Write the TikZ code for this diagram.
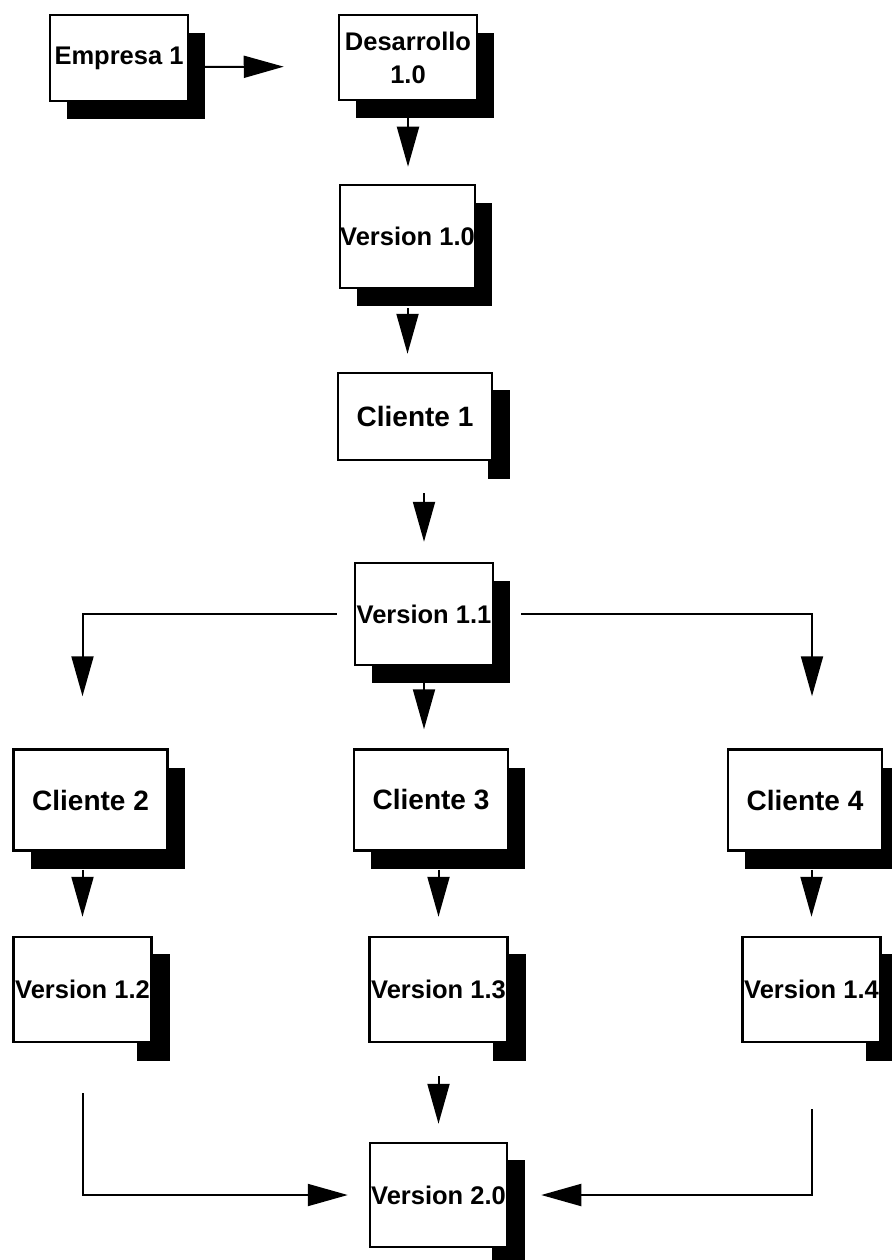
\documentclass[tikz,border=0pt]{standalone}
\usepackage{fontspec}
\setmainfont{Liberation Sans}
\usetikzlibrary{arrows.meta,shadows,backgrounds}

\begin{document}
\begin{tikzpicture}[x=1pt,y=-1pt,
    caja/.style={draw, line width=2.5pt, fill=white, inner sep=0pt, align=center,
      font=\bfseries\fontsize{25.5}{33}\selectfont},
    cliente/.style={font=\bfseries\fontsize{28}{33}\selectfont},
    sombra/.style={drop shadow={shadow xshift=17pt, shadow yshift=-18pt, fill=black, opacity=1}},
    flecha/.style={line width=2pt, -{Triangle[length=40pt,width=22pt]}}]
  \useasboundingbox (0,0) rectangle (891,1260);
      \node (emp) at (119,58) [caja, sombra, minimum width=138pt, minimum height=86pt] {Empresa 1};
      \node (des) at (408,57.5) [caja, sombra, minimum width=138pt, minimum height=85pt] {Desarrollo\\1.0};
      \node (v10) at (407.5,236.5) [caja, sombra, minimum width=135pt, minimum height=103pt] {Version 1.0};
      \node (c1) at (415,416.5) [caja, cliente, minimum width=154pt, minimum height=87pt] {Cliente 1};
      \node (v11) at (424,614) [caja, sombra, minimum width=138pt, minimum height=102pt] {Version 1.1};
      \foreach \i/\xc/\xv in {2/90.5/82.5, 3/431/438.5, 4/805/811.5} {
        \node (c\i) at (\xc,800) [caja, cliente, sombra, minimum width=154pt, minimum height=101pt] {Cliente \i};
        \node (v1\i) at (\xv,989.5) [caja, minimum width=138pt, minimum height=105pt] {Version 1.\i};
      }
      \node (v20) at (438.5,1195) [caja, minimum width=137pt, minimum height=104pt] {Version 2.0};

      % sombras solo a la derecha
      \begin{scope}[on background layer]
        \foreach \n/\d in {c1/5pt, v12/16pt, v13/16pt, v14/16pt, v20/16pt}
          \fill ([xshift=-\d,yshift=-18pt]\n.north east) rectangle ([xshift=17pt,yshift=-18pt]\n.south east);
      \end{scope}

      \draw[flecha, shorten >=54pt] ([yshift=-9pt]emp.east) -- ([yshift=-9pt]des.west);
      \draw[flecha, shorten <=17pt, shorten >=17pt] (des.south) -- (des.south |- v10.north);
      \draw[flecha, shorten <=19pt, shorten >=18pt] (v10.south) -- (v10.south |- c1.north);
      \draw[flecha, shorten <=32pt, shorten >=20pt] (v11.north |- c1.south) -- (v11.north);
      \draw[flecha, shorten <=14pt, shorten >=19pt] (v11.south) -- (v11.south |- c3.north);
      \draw[flecha, shorten <=17pt, shorten >=52pt] (v11.west) -| ([xshift=-8pt]c2.north);
      \draw[flecha, shorten <=27pt, shorten >=52pt] (v11.east) -| ([xshift=7pt]c4.north);
      \foreach \a/\b in {c2/v12, c3/v13, c4/v14}
        \draw[flecha, shorten <=18pt, shorten >=19pt] (\b.north |- \a.south) -- (\b.north);
      \draw[flecha, shorten <=33pt, shorten >=18pt] (v13.south) -- (v20.north);
      \draw[flecha, shorten <=50pt, shorten >=21pt] (v12.south) |- (v20.west);
      \draw[flecha, shorten <=66pt, shorten >=33pt] (v14.south) |- (v20.east);
\end{tikzpicture}
\end{document}
